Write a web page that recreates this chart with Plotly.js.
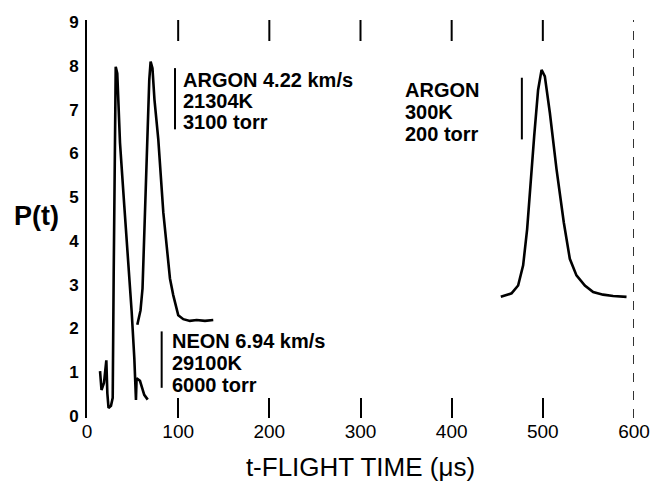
<!DOCTYPE html>
<html>
<head>
<meta charset="utf-8">
<script src="https://cdn.plot.ly/plotly-3.0.1.min.js"></script>
<style>html,body{margin:0;padding:0;background:#fff;}#chart{width:657px;height:482px;}</style>
</head>
<body>
<div id="chart"></div>
<script>
// ---- data ----
const neonT = [14.3, 15.9, 18.6, 21.2, 22.3, 23.6, 26.3, 28.2, 29.3, 30.4, 31.5, 33.2, 36.2, 40.9, 44.6, 49.0, 51.9, 53.0, 53.7, 54.4, 58.1, 62.8, 66.6];
const neonP = [1.02, 0.59, 0.75, 1.27, 0.52, 0.18, 0.23, 0.41, 3.30, 6.32, 7.98, 7.83, 6.24, 4.80, 3.74, 2.38, 1.32, 0.52, 0.36, 0.86, 0.80, 0.48, 0.37];

const argonFastT = [55.2, 58.7, 60.9, 62.2, 63.6, 65.2, 66.9, 68.3, 69.8, 71.8, 74.0, 78.2, 83.7, 89.1, 91.0, 94.6, 100.1, 105.6, 112.9, 120.3, 129.4, 138.5];
const argonFastP = [2.08, 2.41, 2.91, 3.70, 4.80, 5.86, 7.00, 7.68, 8.10, 7.95, 7.23, 6.32, 4.65, 3.44, 3.14, 2.76, 2.30, 2.21, 2.17, 2.19, 2.17, 2.19];

const argonSlowT = [453.9, 460.2, 465.7, 472.9, 478.4, 482.8, 486.5, 490.5, 494.8, 498.6, 502.2, 507.7, 515.0, 523.0, 529.6, 536.9, 546.1, 555.2, 566.1, 577.1, 591.8];
const argonSlowP = [2.72, 2.77, 2.80, 2.98, 3.44, 4.27, 5.33, 6.39, 7.45, 7.91, 7.76, 6.93, 5.64, 4.42, 3.59, 3.21, 2.98, 2.83, 2.77, 2.74, 2.72];

const xTicks = [0, 100, 200, 300, 400, 500, 600];
const xTickText = ['0', '100', '200', '300', '400', '500', '600'];
const yTicks = [0, 1, 2, 3, 4, 5, 6, 7, 8, 9];
const yTickText = ['0', '1', '2', '3', '4', '5', '6', '7', '8', '9'];

const labelFast = ['ARGON 4.22 km/s', '21304K', '3100 torr'];
const labelNeon = ['NEON 6.94 km/s', '29100K', '6000 torr'];
const labelSlow = ['ARGON', '300K', '200 torr'];

// ---- chart ----
const FONT = 'Liberation Sans, Arial, Helvetica, sans-serif';
const lineStyle = {color: '#000', width: 2.6};

const traces = [
  {x: neonT, y: neonP, type: 'scatter', mode: 'lines', line: lineStyle, name: 'Neon', hoverinfo: 'skip'},
  {x: argonFastT, y: argonFastP, type: 'scatter', mode: 'lines', line: lineStyle, name: 'Argon fast', hoverinfo: 'skip'},
  {x: argonSlowT, y: argonSlowP, type: 'scatter', mode: 'lines', line: lineStyle, name: 'Argon 300K', hoverinfo: 'skip'}
];

function block(lines, x, yTop, step) {
  return lines.map((t, i) => ({
    text: t, x: x, y: yTop - i * step, xref: 'x', yref: 'y',
    xanchor: 'left', yanchor: 'middle', showarrow: false,
    font: {family: FONT, size: 20, color: '#000', weight: 'bold'}
  }));
}

const annotations = []
  .concat(block(labelFast, 103, 7.68, 0.48))
  .concat(block(labelNeon, 91.5, 1.70, 0.50))
  .concat(block(labelSlow, 346.5, 7.45, 0.50))
  .concat([{
    text: 'P(t)', xref: 'paper', yref: 'y', x: 0, y: 4.57, xanchor: 'right', yanchor: 'middle',
    xshift: -26, showarrow: false,
    font: {family: FONT, size: 27, color: '#000', weight: 'bold'}
  }]);

function bar(x, y0, y1) {
  return {type: 'line', xref: 'x', yref: 'y', x0: x, x1: x, y0: y0, y1: y1,
          line: {color: '#000', width: 2}};
}

// top tick marks (inside, hanging down from the top edge), one per x tick value
const topTicks = xTicks.slice(1, -1).map(v => ({
  type: 'line', xref: 'x', yref: 'paper', x0: v, x1: v, y0: 1, y1: 1 - 21 / 398,
  line: {color: '#000', width: 2}
}));

const shapes = [
  bar(96.5, 7.95, 6.55),
  bar(81.9, 1.93, 0.64),
  bar(477, 7.73, 6.32),
  {type: 'line', xref: 'x', yref: 'paper', x0: xTicks[xTicks.length - 1], x1: xTicks[xTicks.length - 1],
   y0: 0, y1: 1, line: {color: '#000', width: 1.6, dash: 'dash'}}
].concat(topTicks);

const layout = {
  width: 657, height: 482,
  margin: {l: 87, r: 23, t: 20, b: 64, pad: 0},
  paper_bgcolor: '#fff', plot_bgcolor: '#fff',
  showlegend: false,
  font: {family: FONT, color: '#000'},
  xaxis: {
    range: [0, 600], fixedrange: true, tickmode: 'array', tickvals: xTicks, ticktext: xTickText,
    ticks: 'inside', ticklen: 20, tickwidth: 2, tickcolor: '#000',
    showline: false, zeroline: false, showgrid: false,
    tickfont: {family: FONT, size: 19, color: '#000'},
    title: {text: 't-FLIGHT TIME (μs)', font: {family: FONT, size: 26, color: '#000'}, standoff: 16}
  },
  yaxis: {
    range: [-0.05, 9.05], fixedrange: true, tickmode: 'array', tickvals: yTicks, ticktext: yTickText,
    ticks: '', showline: true, linewidth: 2, linecolor: '#000',
    zeroline: false, showgrid: false, ticklabelstandoff: 3,
    tickfont: {family: FONT, size: 17, color: '#000', weight: 'bold'}
  },
  annotations: annotations,
  shapes: shapes
};

Plotly.newPlot('chart', traces, layout, {staticPlot: true, displayModeBar: false});
</script>
</body>
</html>
